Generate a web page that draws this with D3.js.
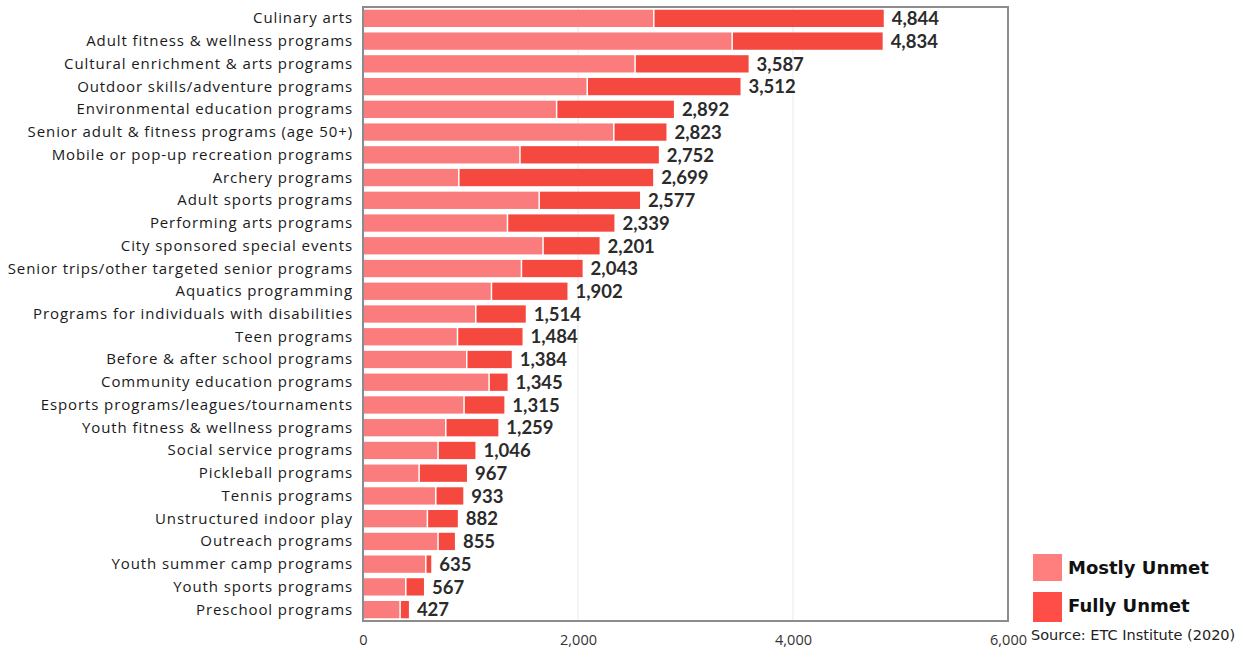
<!DOCTYPE html>
<html><head><meta charset="utf-8">
<script src="https://cdn.jsdelivr.net/npm/d3@7"></script>
<style>body{margin:0;background:#fff;}svg{display:block;}</style>
</head><body>
<script>
const categories = ["Culinary arts","Adult fitness & wellness programs","Cultural enrichment & arts programs","Outdoor skills/adventure programs","Environmental education programs","Senior adult & fitness programs (age 50+)","Mobile or pop-up recreation programs","Archery programs","Adult sports programs","Performing arts programs","City sponsored special events","Senior trips/other targeted senior programs","Aquatics programming","Programs for individuals with disabilities","Teen programs","Before & after school programs","Community education programs","Esports programs/leagues/tournaments","Youth fitness & wellness programs","Social service programs","Pickleball programs","Tennis programs","Unstructured indoor play","Outreach programs","Youth summer camp programs","Youth sports programs","Preschool programs"];
const totals = [4844,4834,3587,3512,2892,2823,2752,2699,2577,2339,2201,2043,1902,1514,1484,1384,1345,1315,1259,1046,967,933,882,855,635,567,427];
const mostlyUnmet = [2698,3427,2524,2079,1794,2326,1453,884,1632,1337,1668,1467,1188,1042,872,958,1166,933,763,691,515,670,592,691,577,391,338];
const fullyUnmet = totals.map((t,i)=>t-mostlyUnmet[i]);
const xTicks = [0,2000,4000,6000];
const seriesNames = ["Mostly Unmet","Fully Unmet"];
const colors = ["#FA7C7C","#F5483F"];
const legendColors = ["#FF7F7F","#FF4D48"];

const W=1247,H=654;
const svg=d3.select("body").append("svg").attr("width",W).attr("height",H);
const L=363,R=1008,T=7,B=621;
const x=d3.scaleLinear().domain([0,6000]).range([L,R]);
const y=d3.scaleBand().domain(categories).range([T,B]).paddingInner(0.24).paddingOuter(0.12);

// gridlines
svg.append("g").selectAll("line").data(xTicks.slice(1,-1)).join("line")
  .attr("x1",d=>x(d)).attr("x2",d=>x(d)).attr("y1",T).attr("y2",B)
  .attr("stroke","#f0f0f0").attr("stroke-width",1.5);

const rows=categories.map((c,i)=>({c,m:mostlyUnmet[i],f:fullyUnmet[i],t:totals[i]}));
const g=svg.append("g");
g.selectAll("rect.m").data(rows).join("rect").attr("class","m")
  .attr("x",x(0)).attr("y",d=>y(d.c)).attr("width",d=>x(d.m)-x(0)).attr("height",y.bandwidth())
  .attr("fill",colors[0]);
g.selectAll("rect.f").data(rows).join("rect").attr("class","f")
  .attr("x",d=>x(d.m)+1.5).attr("y",d=>y(d.c)).attr("width",d=>Math.max(0,x(d.t)-x(d.m)-1.5)).attr("height",y.bandwidth())
  .attr("fill",colors[1]);

// value labels
g.selectAll("text.v").data(rows).join("text").attr("class","v")
  .attr("x",d=>x(d.t)+8).attr("y",d=>y(d.c)+y.bandwidth()/2+2)
  .attr("dominant-baseline","middle")
  .attr("font-family","Lato, 'Liberation Sans', sans-serif").attr("font-weight","bold").attr("font-size",18.5)
  .attr("fill","#2b2b2b").text(d=>d3.format(",")(d.t));

// category labels
g.selectAll("text.c").data(rows).join("text").attr("class","c")
  .attr("x",L-10).attr("y",d=>y(d.c)+y.bandwidth()/2+1)
  .attr("text-anchor","end").attr("dominant-baseline","middle")
  .attr("font-family","'Open Sans', sans-serif").attr("font-size",15).attr("letter-spacing",0.9)
  .attr("fill","#1a1a1a").text(d=>d.c);

// frame
svg.append("rect").attr("x",L).attr("y",T).attr("width",R-L).attr("height",B-T)
  .attr("fill","none").attr("stroke","#8c8c8c").attr("stroke-width",2);

// x axis labels
const xa=svg.append("g").attr("transform",`translate(0,${B})`).call(d3.axisBottom(x).tickValues(xTicks).tickFormat(d3.format(",")).tickSize(0).tickPadding(14));
xa.select(".domain").remove();
xa.selectAll("text").attr("font-family","'Open Sans', sans-serif").attr("font-size",14.5).attr("fill","#333");

// legend
const lg=svg.append("g");
seriesNames.forEach((s,i)=>{
  const yy=[554,592][i];
  lg.append("rect").attr("x",1033).attr("y",yy).attr("width",29).attr("height",[27,30][i]).attr("fill",legendColors[i]);
  lg.append("text").attr("x",1068).attr("y",yy+20).attr("font-family","'DejaVu Sans', sans-serif").attr("font-weight","bold")
    .attr("font-size",18).attr("fill","#111").text(s);
});
svg.append("text").attr("x",1031).attr("y",640).attr("font-family","'DejaVu Sans', sans-serif").attr("font-size",14.5)
  .attr("fill","#222").text("Source: ETC Institute (2020)");
</script>
</body></html>
